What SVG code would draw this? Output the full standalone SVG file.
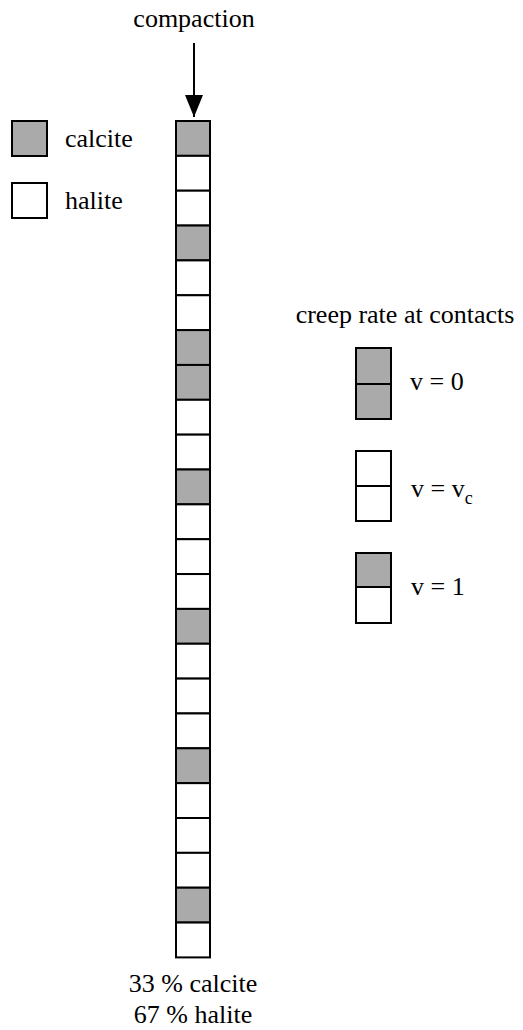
<svg xmlns="http://www.w3.org/2000/svg" width="523" height="1030" viewBox="0 0 523 1030">
<style>
.t{font-size:26px;fill:#000}
.c{fill:#aaaaaa;stroke:#000;stroke-width:2}
.h{fill:#fff;stroke:#000;stroke-width:2}
</style>
<defs>
<marker id="ah" viewBox="0 0 22 18" refX="22" refY="9" markerWidth="22" markerHeight="18" markerUnits="userSpaceOnUse" orient="auto">
<path d="M0,0 L22,9 L0,18 Z" fill="#000"/>
</marker>
</defs>
<rect width="523" height="1030" fill="#fff"/>
<g font-family="Liberation Serif, DejaVu Serif, serif">
<g id="title"><text class="t" x="194" y="27" text-anchor="middle">compaction</text></g>
<g id="legend-calcite"><rect class="c" x="12" y="121" width="35" height="35"/><text class="t" x="65" y="147">calcite</text></g>
<g id="legend-halite"><rect class="h" x="12" y="183" width="35" height="35"/><text class="t" x="65" y="209">halite</text></g>
<g id="summary">
<text class="t" x="193" y="992" text-anchor="middle">33 % calcite</text>
<text class="t" x="193" y="1023" text-anchor="middle">67 % halite</text>
</g>
<g id="creep-title"><text class="t" x="405" y="323" text-anchor="middle">creep rate at contacts</text></g>
<g id="v0">
<rect class="c" x="356" y="348" width="35" height="36"/>
<rect class="c" x="356" y="384" width="35" height="35"/>
<text class="t" x="410" y="390">v = 0</text>
</g>
<g id="vc">
<rect class="h" x="356" y="451" width="35" height="35"/>
<rect class="h" x="356" y="486" width="35" height="35"/>
<text class="t" x="411" y="497">v = v<tspan font-size="18" dy="7">c</tspan></text>
</g>
<g id="v1">
<rect class="c" x="356" y="553" width="35" height="34"/>
<rect class="h" x="356" y="587" width="35" height="36"/>
<text class="t" x="411" y="595">v = 1</text>
</g>
</g>
<g id="connectors">
<line x1="194" y1="43" x2="194" y2="117" stroke="#000" stroke-width="2" marker-end="url(#ah)"/>
</g>
<g id="column">
<rect class="c" x="176" y="121" width="34" height="34.85"/>
<rect class="h" x="176" y="155.85" width="34" height="34.85"/>
<rect class="h" x="176" y="190.7" width="34" height="34.85"/>
<rect class="c" x="176" y="225.55" width="34" height="34.85"/>
<rect class="h" x="176" y="260.4" width="34" height="34.85"/>
<rect class="h" x="176" y="295.25" width="34" height="34.85"/>
<rect class="c" x="176" y="330.1" width="34" height="34.85"/>
<rect class="c" x="176" y="364.95" width="34" height="34.85"/>
<rect class="h" x="176" y="399.8" width="34" height="34.85"/>
<rect class="h" x="176" y="434.65" width="34" height="34.85"/>
<rect class="c" x="176" y="469.5" width="34" height="34.85"/>
<rect class="h" x="176" y="504.35" width="34" height="34.85"/>
<rect class="h" x="176" y="539.2" width="34" height="34.85"/>
<rect class="h" x="176" y="574.05" width="34" height="34.85"/>
<rect class="c" x="176" y="608.9" width="34" height="34.85"/>
<rect class="h" x="176" y="643.75" width="34" height="34.85"/>
<rect class="h" x="176" y="678.6" width="34" height="34.85"/>
<rect class="h" x="176" y="713.45" width="34" height="34.85"/>
<rect class="c" x="176" y="748.3" width="34" height="34.85"/>
<rect class="h" x="176" y="783.15" width="34" height="34.85"/>
<rect class="h" x="176" y="818" width="34" height="34.85"/>
<rect class="h" x="176" y="852.85" width="34" height="34.85"/>
<rect class="c" x="176" y="887.7" width="34" height="34.85"/>
<rect class="h" x="176" y="922.55" width="34" height="34.85"/>
</g>
</svg>
